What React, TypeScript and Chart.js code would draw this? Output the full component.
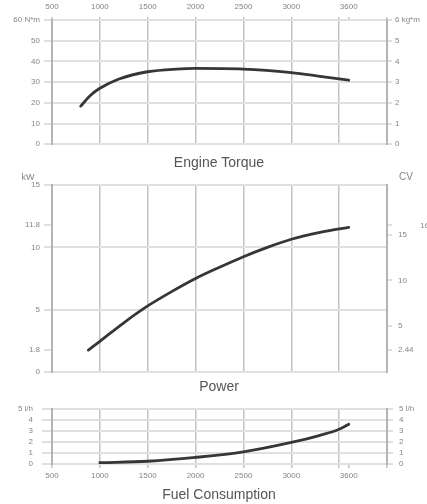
import React, { useEffect, useRef } from "react";
import { Chart, registerables } from "chart.js";
Chart.register(...registerables);

// ---- data ----
const rpmTicks = [500, 1000, 1500, 2000, 2500, 3000, 3500, 3600, 4000];

const torqueRpm = [800, 900, 1000, 1200, 1500, 1800, 2000, 2500, 3000, 3300, 3600];
const torqueNm = [18.4, 23.5, 27, 31.5, 35, 36.3, 36.6, 36.3, 34.6, 32.8, 30.9];
const torqueNmTicks = [0, 10, 20, 30, 40, 50, 60];
const torqueKgmTicks = [0, 1, 2, 3, 4, 5, 6];

const powerRpm = [880, 1000, 1250, 1500, 1750, 2000, 2250, 2500, 2750, 3000, 3300, 3600];
const powerKw = [1.76, 2.46, 3.95, 5.3, 6.45, 7.5, 8.4, 9.25, 10.0, 10.65, 11.2, 11.6];
const powerKwTicks = [0, 1.8, 5, 10, 11.8, 15];
const powerKwGrid = [0, 5, 10, 15];
const powerCvTicks = [2.44, 5, 10, 15, 16];

const fuelRpm = [1000, 1500, 2000, 2500, 3000, 3300, 3500, 3600];
const fuelLh = [0.12, 0.25, 0.6, 1.1, 1.95, 2.6, 3.15, 3.6];
const fuelTicks = [0, 1, 2, 3, 4, 5];

// ---- styles ----
const GRID_V = "#c2c2c2";
const GRID_H = "#e0e0e0";
const AXIS = "#b4b4b4";
const TEXT = "#858585";
const TITLE = "#555555";
const LINE = "#363636";
const FAMILY = "'Liberation Sans', Arial, sans-serif";
const TICK_FONT = { family: FAMILY, size: 8 };
const TRANSPARENT = "rgba(0,0,0,0)";

function xScale(position: string, showLabels: boolean, height: number, tickLength: number, padding: number) {
  return {
    type: "linear",
    position,
    min: 500,
    max: 4000,
    afterBuildTicks: (s: any) => {
      s.ticks = rpmTicks.map((v) => ({ value: v }));
    },
    afterFit: (s: any) => {
      s.height = height;
    },
    border: { display: false },
    grid: {
      color: (c: any) => (c.tick && c.tick.value === 3600 ? TRANSPARENT : GRID_V),
      lineWidth: 1.5,
      drawTicks: showLabels,
      tickLength,
      tickColor: GRID_V,
    },
    ticks: {
      display: showLabels,
      padding,
      color: TEXT,
      font: TICK_FONT,
      maxRotation: 0,
      autoSkip: false,
      callback: (v: any) => (v === 3500 || v === 4000 ? "" : String(v)),
    },
  };
}

function yScale(
  position: string,
  min: number,
  max: number,
  ticks: number[],
  gridVals: number[] | null,
  width: number,
  tickLength: number,
  padding: number,
  label: (v: number) => string,
  onArea: boolean
) {
  return {
    type: "linear",
    position,
    min,
    max,
    afterBuildTicks: (s: any) => {
      s.ticks = ticks.map((v) => ({ value: v }));
    },
    afterFit: (s: any) => {
      s.width = width;
    },
    border: { display: true, color: AXIS, width: 2 },
    grid: {
      drawOnChartArea: onArea,
      color: (c: any) =>
        !gridVals || (c.tick && gridVals.includes(c.tick.value)) ? GRID_H : TRANSPARENT,
      lineWidth: 2,
      tickLength,
      tickColor: GRID_H,
    },
    ticks: {
      padding,
      color: TEXT,
      font: TICK_FONT,
      autoSkip: false,
      callback: (v: any) => label(v),
    },
  };
}

function lineData(xs: number[], ys: number[]) {
  return {
    datasets: [
      {
        data: xs.map((x, i) => ({ x, y: ys[i] })),
        borderColor: LINE,
        borderWidth: 2.8,
        borderCapStyle: "round",
        pointRadius: 0,
        cubicInterpolationMode: "monotone",
        fill: false,
      },
    ],
  };
}

function title(text: string, top: number, bottom: number) {
  return {
    display: true,
    text,
    position: "bottom",
    color: TITLE,
    font: { family: FAMILY, size: 14, weight: "normal" },
    padding: { top, bottom },
  };
}

const unitsPlugin = (left: string, right: string) => ({
  id: "units",
  afterDraw(chart: any) {
    const { ctx, chartArea } = chart;
    ctx.save();
    ctx.fillStyle = TEXT;
    ctx.textAlign = "center";
    ctx.textBaseline = "middle";
    ctx.font = `9px ${FAMILY}`;
    ctx.fillText(left, chartArea.left - 24, chartArea.top - 7);
    ctx.font = `10px ${FAMILY}`;
    ctx.fillText(right, chartArea.right + 19, chartArea.top - 8);
    ctx.restore();
  },
});

function useChart(ref: React.RefObject<HTMLCanvasElement>, make: () => any) {
  useEffect(() => {
    if (!ref.current) return;
    const chart = new Chart(ref.current, make());
    return () => chart.destroy();
  }, []);
}

export default function App() {
  const c1 = useRef<HTMLCanvasElement>(null);
  const c2 = useRef<HTMLCanvasElement>(null);
  const c3 = useRef<HTMLCanvasElement>(null);

  useChart(c1, () => ({
    type: "line",
    data: lineData(torqueRpm, torqueNm),
    options: {
      animation: false,
      responsive: false,
      layout: { padding: { left: 11, top: 0, right: 0, bottom: 0 } },
      plugins: { legend: { display: false }, tooltip: { enabled: false }, title: title("Engine Torque", 11, 2) },
      scales: {
        x: xScale("top", true, 20, 3, 5),
        y: yScale("left", 0, 60, torqueNmTicks, null, 41, 8, 4, (v) => (v === 60 ? "60 N*m" : String(v)), true),
        y1: yScale("right", 0, 6, torqueKgmTicks, null, 40, 5, 3, (v) => (v === 6 ? "6 kg*m" : String(v)), false),
      },
    },
  }));

  useChart(c2, () => ({
    type: "line",
    data: lineData(powerRpm, powerKw),
    options: {
      animation: false,
      responsive: false,
      layout: { padding: { left: 11, top: 15, right: 0, bottom: 0 } },
      plugins: { legend: { display: false }, tooltip: { enabled: false }, title: title("Power", 7.2, 2) },
      scales: {
        x: xScale("bottom", false, 0, 0, 0),
        y: yScale("left", 0, 15, powerKwTicks, powerKwGrid, 41, 8, 4, (v) => String(v), true),
        y1: yScale("right", 0, 15 * 1.36, powerCvTicks, null, 40, 5, 6, (v) =>
          v === 16 ? "          16" : String(v), false),
      },
    },
    plugins: [unitsPlugin("kW", "CV")],
  }));

  useChart(c3, () => ({
    type: "line",
    data: lineData(fuelRpm, fuelLh),
    options: {
      animation: false,
      responsive: false,
      layout: { padding: { left: 11, top: 7, right: 0, bottom: 0 } },
      plugins: { legend: { display: false }, tooltip: { enabled: false }, title: title("Fuel Consumption", 6.6, 0.6) },
      scales: {
        x: xScale("bottom", true, 16, 4, 3),
        y: yScale("left", 0, 5, fuelTicks, null, 41, 10, 9, (v) => (v === 5 ? "5 l/h" : String(v)), true),
        y1: yScale("right", 0, 5, fuelTicks, null, 40, 6, 6, (v) => (v === 5 ? "5 l/h" : String(v)), false),
      },
    },
  }));

  return (
    <div style={{ position: "absolute", left: 0, top: 0, width: 427, height: 504, background: "#fff", overflow: "hidden" }}>
      <canvas ref={c1} width={427} height={174} style={{ position: "absolute", left: 0, top: 0 }} />
      <canvas ref={c2} width={427} height={228} style={{ position: "absolute", left: 0, top: 170 }} />
      <canvas ref={c3} width={427} height={109} style={{ position: "absolute", left: 0, top: 395 }} />
    </div>
  );
}
